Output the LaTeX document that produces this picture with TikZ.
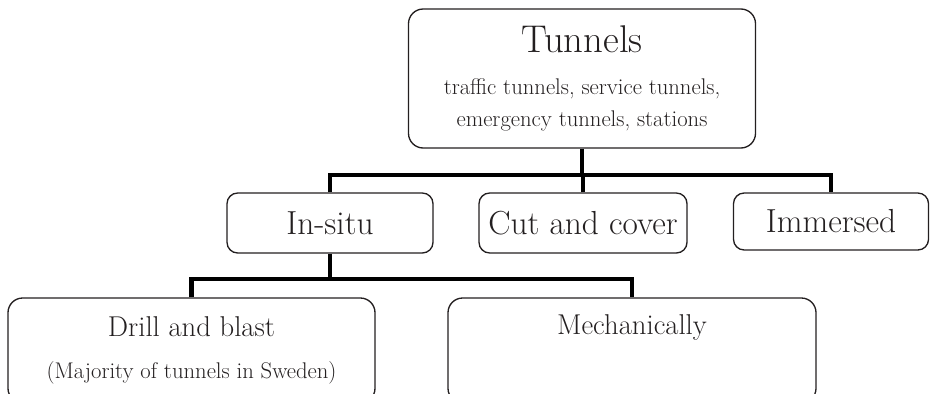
\documentclass[tikz,border=0pt]{standalone}
\usepackage{fontspec}
\definecolor{ink}{HTML}{231F20}
\tikzset{
  box/.style={draw=ink, line width=1pt, rounded corners=8pt, inner sep=0pt,
    align=center, text=ink},
  bigbox/.style={box, rounded corners=11pt},
  bar/.style={draw=black, line width=3.4pt},
}
\begin{document}
\begin{tikzpicture}[x=0.75pt, y=-0.75pt]
        \useasboundingbox (0,0) rectangle (930,393);
        %% top level
        \node[bigbox, minimum width=260.25pt, minimum height=104.25pt,
          font=\fontsize{17}{24}\selectfont] (tunnels) at (582,78.5)
          {{\fontsize{29}{29}\selectfont Tunnels}\\[7.5pt]
           traffic tunnels, service tunnels,\\
           emergency tunnels, stations};
        %% second level
        \node[box, minimum width=154.5pt, minimum height=45pt,
          font=\fontsize{25}{28}\selectfont] (insitu) at (330,223) {In-situ};
        \node[box, minimum width=156pt, minimum height=45pt,
          font=\fontsize{25}{28}\selectfont] (cutcover) at (583,223) {Cut and cover};
        \node[box, minimum width=146.25pt, minimum height=42.75pt,
          font=\fontsize{25}{28}\selectfont] (immersed) at (831,221.5) {Immersed};
        %% third level
        \node[bigbox, minimum width=275.25pt, minimum height=78.75pt,
          font=\fontsize{17}{24}\selectfont] (drillblast) at (191.5,350.5)
          {{\fontsize{21.5}{24}\selectfont Drill and blast}\\[7.5pt]
           (Majority of tunnels in Sweden)};
        \node[bigbox, minimum width=276pt, minimum height=78.75pt,
          font=\fontsize{17}{24}\selectfont] (mechanical) at (632,350.5)
          {{\fontsize{21.5}{24}\selectfont Mechanically}\\[7.5pt]\strut};
        %% connectors
        \coordinate (bus1) at (0,175);
        \coordinate (bus2) at (0,279);
        \draw[bar] (tunnels.south) -- (tunnels.south |- bus1);
        \draw[bar] (insitu.north) |- (bus1 -| immersed.north) -- (immersed.north);
        \draw[bar] (cutcover.north) -- (cutcover.north |- bus1);
        \draw[bar] (insitu.south) -- (insitu.south |- bus2);
        \draw[bar] (drillblast.north) |- (bus2 -| mechanical.north) -- (mechanical.north);
    \end{tikzpicture}
\end{document}
